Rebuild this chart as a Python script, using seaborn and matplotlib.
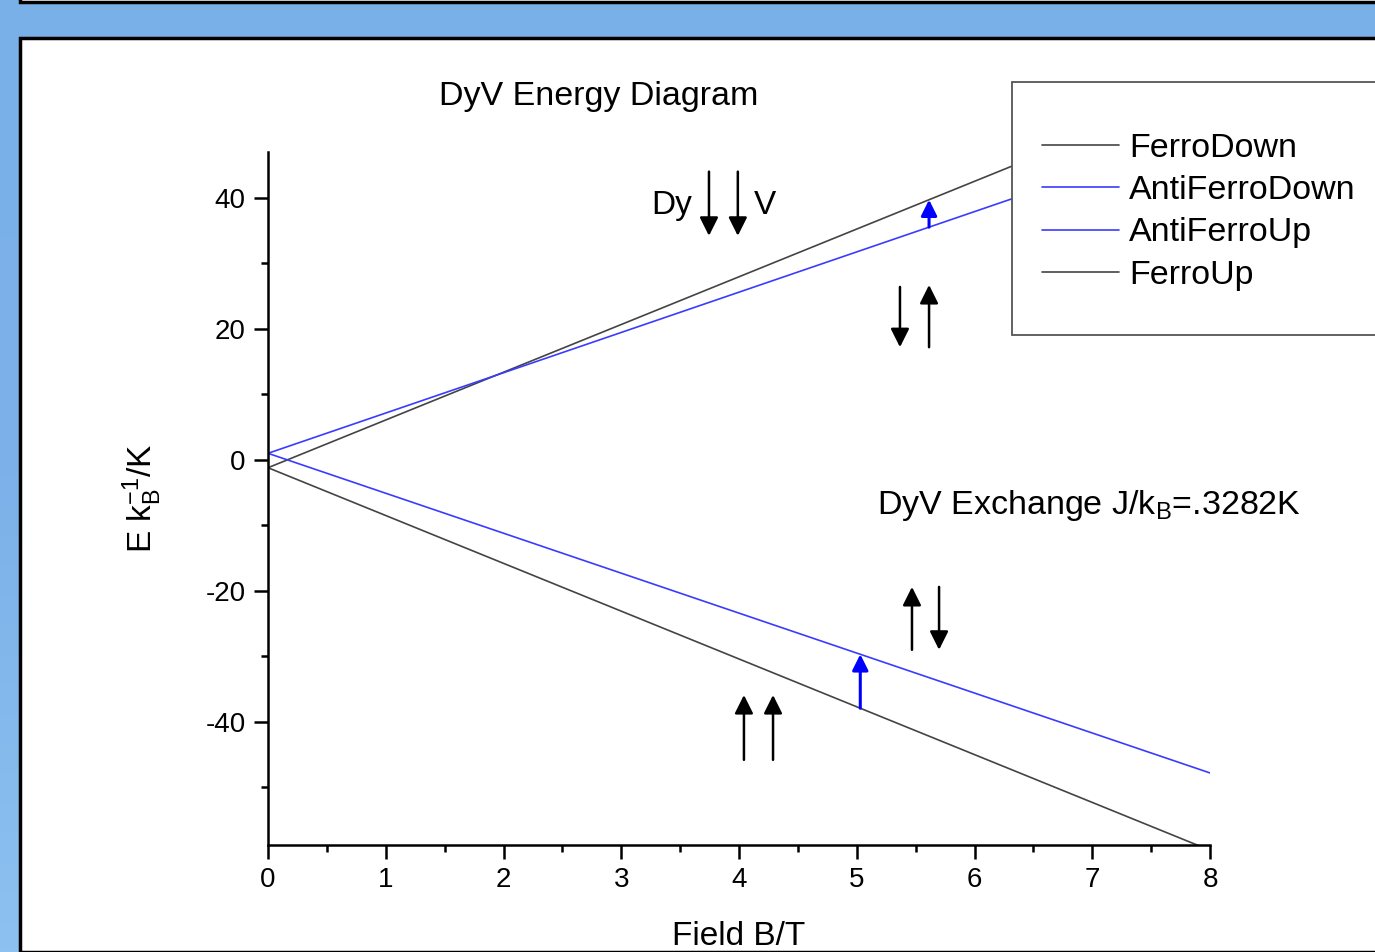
import numpy as np
import pandas as pd
import seaborn as sns
import matplotlib.pyplot as plt
from matplotlib.patches import Rectangle
from matplotlib.colors import LinearSegmentedColormap

# Field values (T) and energies (K)
field = [0.0, 8.0]
ferro_down = [-1.2, 57.1]
anti_ferro_down = [1.0, 50.2]
anti_ferro_up = [1.0, -47.8]
ferro_up = [-1.2, -59.6]

series_names = ["FerroDown", "AntiFerroDown", "AntiFerroUp", "FerroUp"]
series_values = [ferro_down, anti_ferro_down, anti_ferro_up, ferro_up]
series_colors = ["#444444", "#3b3bff", "#3b3bff", "#444444"]

# spin arrows: (x, y_start, y_end)
spin_arrows = [
    (3.745, 44.0, 34.2), (3.99, 44.0, 34.2),
    (5.367, 26.4, 17.2), (5.614, 17.2, 26.7),
    (5.469, -29.0, -19.4), (5.699, -19.4, -29.0),
    (4.042, -45.8, -35.9), (4.289, -45.8, -35.9),
]
# blue transition arrows: (field, from series, to series)
transitions = [(5.614, "AntiFerroDown", "FerroDown"), (5.03, "FerroUp", "AntiFerroUp")]

df = pd.DataFrame({"Field": np.tile(field, len(series_names)),
                   "Energy": np.concatenate(series_values),
                   "State": np.repeat(series_names, len(field))})

sns.set_style("white")
plt.rcParams['font.family'] = ['Liberation Sans', 'DejaVu Sans']
plt.rcParams['mathtext.default'] = 'regular'
plt.rcParams['axes.unicode_minus'] = False
plt.rcParams['text.color'] = 'black'
plt.rcParams['axes.labelcolor'] = 'black'
plt.rcParams['xtick.color'] = 'black'
plt.rcParams['ytick.color'] = 'black'

fig = plt.figure(figsize=(13.75, 9.52), dpi=100)
W, H = 1375, 952

# blue frame background (vertical gradient) and white panels
bg = fig.add_axes([0, 0, 1, 1], zorder=-20)
bg_cmap = LinearSegmentedColormap.from_list("frame", ["#8cc1f1", "#7cb1e9", "#7ab0e8"])
bg.imshow(np.linspace(0, 1, 256).reshape(-1, 1), aspect="auto", cmap=bg_cmap,
          extent=[0, 1, 0, 1], origin="lower")
bg.set_axis_off()
fig.patches.append(Rectangle((20 / W, 0), 1.0, 1 - 38 / H, transform=fig.transFigure,
                             facecolor="white", edgecolor="black", lw=2.5, zorder=2))
fig.patches.append(Rectangle((20 / W, 1 - 2 / H), 1.0, 0.1, transform=fig.transFigure,
                             facecolor="white", edgecolor="black", lw=2.5, zorder=2))

ax = fig.add_axes([268 / W, 1 - 845 / H, 942 / W, 693 / H], zorder=3)
ax.patch.set_alpha(0)
sns.lineplot(data=df, x="Field", y="Energy", hue="State", hue_order=series_names,
             palette=series_colors, lw=1.2, ax=ax, legend=False)

ax.set_xlim(0, 8)
ax.set_ylim(-58.8, 47)
ax.set_xticks(range(0, 9))
ax.set_xticks(np.arange(0.5, 8, 1), minor=True)
ax.set_yticks([-40, -20, 0, 20, 40])
ax.set_yticks([-50, -30, -10, 10, 30], minor=True)
ax.tick_params(axis="both", which="major", direction="out", length=10, width=1.8,
               labelsize=20, bottom=True, left=True, pad=6)
ax.tick_params(axis="both", which="minor", direction="out", length=5, width=1.8,
               bottom=True, left=True)
for side in ["top", "right"]:
    ax.spines[side].set_visible(False)
for side in ["left", "bottom"]:
    ax.spines[side].set_linewidth(1.8)
    ax.spines[side].set_color("black")

ax.set_xlabel("Field B/T", fontsize=24, labelpad=20)
ax.set_ylabel("E k$_B^{-1}$/K", fontsize=24, labelpad=30)

# spin arrows
for x, y0, y1 in spin_arrows:
    ax.annotate("", xy=(x, y1), xytext=(x, y0),
                arrowprops=dict(arrowstyle="-|>", color="black", lw=1.8,
                                mutation_scale=28, shrinkA=0, shrinkB=0))
lookup = dict(zip(series_names, series_values))
for x, a, b in transitions:
    ya = np.interp(x, field, lookup[a])
    yb = np.interp(x, field, lookup[b])
    ax.annotate("", xy=(x, yb), xytext=(x, ya),
                arrowprops=dict(arrowstyle="-|>", color="blue", lw=2.2,
                                mutation_scale=24, shrinkA=0, shrinkB=0))

ax.text(3.6, 38.8, "Dy", fontsize=24, ha="right", va="center")
ax.text(4.13, 38.8, "V", fontsize=24, ha="left", va="center")
ax.text(5.17, -6.9, "DyV Exchange J/k$_B$=.3282K", fontsize=24.5, ha="left", va="center")
fig.text(599 / W, 1 - 96 / H, "DyV Energy Diagram", fontsize=24.5, ha="center", va="center",
         zorder=4)

# legend box drawn separately, entries without frame
box = Rectangle((1012 / W, 1 - 335 / H), 400 / W, 253 / H, transform=fig.transFigure,
                facecolor="white", edgecolor="#555555", lw=1.3, zorder=5)
fig.patches.append(box)
handles = [plt.Line2D([], [], color=c, lw=1.2) for c in series_colors]
leg = fig.legend(handles, series_names, loc="upper left",
                 bbox_to_anchor=(1042 / W, 1 - 133 / H), bbox_transform=fig.transFigure,
                 fontsize=24.5, frameon=False, borderpad=0, borderaxespad=0,
                 handlelength=2.25, handletextpad=0.3, labelspacing=0.33)
leg.set_zorder(6)

fig.savefig("out.png", dpi=100)
